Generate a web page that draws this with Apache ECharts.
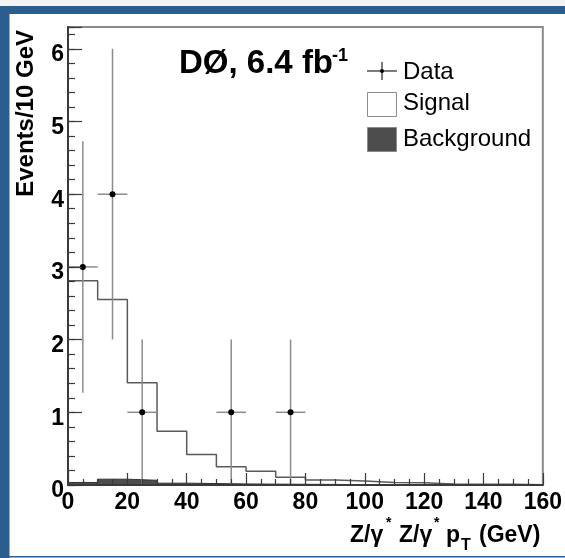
<!DOCTYPE html>
<html>
<head>
<meta charset="utf-8">
<script src="https://cdn.jsdelivr.net/npm/echarts@6/dist/echarts.min.js"></script>
<style>
  html, body { margin: 0; padding: 0; background: #ffffff; }
  #chart { width: 565px; height: 558px; }
</style>
</head>
<body>
<div id="chart"></div>
<script>
// Z/gamma* Z/gamma* pT distribution, 10 GeV bins from 0 to 160 GeV
const binLow = [0, 10, 20, 30, 40, 50, 60, 70, 80, 90, 100, 110, 120, 130, 140, 150];
const binHigh = 160;
const background = [0.035, 0.08, 0.065, 0.025, 0.02, 0.015, 0.012, 0.01, 0.008, 0.006, 0.005, 0.004, 0.003, 0.002, 0.002, 0.001];
const signal = [2.775, 2.47, 1.34, 0.715, 0.40, 0.235, 0.178, 0.095, 0.062, 0.049, 0.03, 0.026, 0.012, 0.008, 0.008, 0.004];

// Observed events with their uncertainties
const dataX = [5, 15, 25, 55, 75];
const dataY = [3, 4, 1, 1, 1];
const dataErrLow = [1.27, 2, 0, 0, 0];
const dataErrHigh = [4.73, 6, 2, 2, 2];
const dataXErr = [5, 5, 5, 5, 5];

// Axis ranges and tick labels
const xTickLabels = [0, 20, 40, 60, 80, 100, 120, 140, 160];
const yTickLabels = [0, 1, 2, 3, 4, 5, 6];
const yMax = 6.3;

const FONT = '"Liberation Sans", Arial, Helvetica, sans-serif';
const DARK = '#3a3a3a';
const BLUE = '#2c5d8f';

// Signal is stacked on top of the background
const total = signal.map((s, i) => s + background[i]);
function stepData(values) {
  const pts = binLow.map((x, i) => [x, values[i]]);
  pts.push([binHigh, values[values.length - 1]]);
  return pts;
}

function label(text, x, y, font, align) {
  return {
    type: 'text', x: x, y: y,
    style: {
      text: text, font: font, fill: '#000',
      align: align || 'left', verticalAlign: 'middle',
      textAlign: align || 'left', textVerticalAlign: 'middle'
    },
    z: 100
  };
}

// Axis title with superscripts and a subscript
const xTitleFont = 'bold 23px ' + FONT;
const supFont = 'bold 14px ' + FONT;
const subFont = 'bold 16px ' + FONT;
const xTitle = [
  label('Z/\u03b3', 350, 535.5, xTitleFont),
  label('*', 386, 523, supFont),
  label('Z/\u03b3', 399, 535.5, xTitleFont),
  label('*', 434, 523, supFont),
  label('p', 446, 535.5, xTitleFont),
  label('T', 461, 546, subFont),
  label('(GeV)', 479, 535.5, xTitleFont)
];

// Experiment and luminosity label
const measureCtx = document.createElement('canvas').getContext('2d');
const expFont = 'bold 33px ' + FONT;
measureCtx.font = expFont;
const expMain = 'D\u00d8, 6.4 fb';
const expMainW = measureCtx.measureText(expMain).width;
const expLabel = [
  label(expMain, 179, 63.5, expFont),
  label('-1', 179 + expMainW - 1, 56, 'bold 18px ' + FONT)
];

const legendFont = '24px ' + FONT;
const legendItems = [
  // Data marker: cross with a dot
  { type: 'line', shape: { x1: 367, y1: 71, x2: 397, y2: 71 }, style: { stroke: '#222', lineWidth: 1.2 }, z: 100 },
  { type: 'line', shape: { x1: 382, y1: 62, x2: 382, y2: 80 }, style: { stroke: '#222', lineWidth: 1.2 }, z: 100 },
  { type: 'circle', shape: { cx: 382, cy: 71, r: 2 }, style: { fill: '#000' }, z: 100 },
  label('Data', 403, 72, legendFont),
  { type: 'rect', shape: { x: 367.5, y: 92.5, width: 29, height: 24 }, style: { fill: '#ffffff', stroke: '#8a8a8a', lineWidth: 1 }, z: 100 },
  label('Signal', 403, 103, legendFont),
  { type: 'rect', shape: { x: 367.5, y: 127.5, width: 29, height: 24 }, style: { fill: '#4d4d4d', stroke: '#8a8a8a', lineWidth: 1 }, z: 100 },
  label('Background', 403, 139, legendFont)
];

const frame = [
  { type: 'rect', shape: { x: 0, y: 0, width: 565, height: 6 }, style: { fill: '#f3f3f3' }, z: 1 },
  { type: 'rect', shape: { x: 0, y: 6, width: 565, height: 8 }, style: { fill: BLUE }, z: 1 },
  { type: 'rect', shape: { x: 0, y: 6, width: 9.5, height: 552 }, style: { fill: BLUE }, z: 1 },
  { type: 'rect', shape: { x: 0, y: 556, width: 565, height: 1.5 }, style: { fill: BLUE }, z: 1 }
];

const yTitle = {
  type: 'text', x: 26, y: 30, rotation: Math.PI / 2,
  style: { text: 'Events/10 GeV', font: 'bold 24px ' + FONT, fill: '#000',
           align: 'right', verticalAlign: 'middle', textAlign: 'right', textVerticalAlign: 'middle' },
  z: 100
};

const chart = echarts.init(document.getElementById('chart'), null, { renderer: 'canvas' });

const option = {
  animation: false,
  backgroundColor: '#ffffff',
  grid: {
    left: 68, right: 22, top: 27, bottom: 73,
    show: true, borderColor: '#8a8a8a', borderWidth: 2, backgroundColor: 'transparent'
  },
  xAxis: {
    type: 'value', min: xTickLabels[0], max: xTickLabels[xTickLabels.length - 1], interval: 20,
    z: 10,
    axisLine: { show: true, onZero: false, lineStyle: { color: DARK, width: 2 } },
    axisTick: { show: true, inside: true, length: 12, lineStyle: { color: DARK, width: 1.2 } },
    minorTick: { show: true, splitNumber: 4, length: 6, lineStyle: { color: DARK, width: 1.2 } },
    splitLine: { show: false },
    axisLabel: {
      margin: 6, fontSize: 23, fontWeight: 'bold', color: '#000', fontFamily: FONT,
      formatter: v => (xTickLabels.includes(v) ? String(v) : '')
    }
  },
  yAxis: [
    {
      // major ticks with labels, set slightly below their ticks
      type: 'value', position: 'left', min: 0, max: yMax, interval: 1,
      z: 10,
      axisLine: { show: true, onZero: false, lineStyle: { color: DARK, width: 2 } },
      axisTick: { show: true, inside: true, length: 14, lineStyle: { color: DARK, width: 1.2 } },
      splitLine: { show: false },
      axisLabel: {
        margin: 4, color: '#000',
        formatter: v => (yTickLabels.includes(v) ? '{n|' + v + '}' : ''),
        rich: {
          n: { fontSize: 23, fontWeight: 'bold', color: '#000', fontFamily: FONT,
               padding: [12, 0, 0, 0] }
        }
      }
    },
    {
      // minor ticks every 0.2
      type: 'value', position: 'left', min: 0, max: yMax, interval: 0.2,
      z: 10,
      axisLine: { show: false },
      axisTick: { show: true, inside: true, length: 7, lineStyle: { color: DARK, width: 1.2 } },
      splitLine: { show: false },
      axisLabel: { show: false }
    }
  ],
  series: [
    {
      name: 'Background', type: 'line', step: 'end', yAxisIndex: 0,
      data: stepData(background), showSymbol: false, symbol: 'none',
      lineStyle: { color: '#333333', width: 1 },
      areaStyle: { color: '#4d4d4d', opacity: 1 },
      z: 2
    },
    {
      name: 'Signal', type: 'line', step: 'end', yAxisIndex: 0,
      data: stepData(total), showSymbol: false, symbol: 'none',
      lineStyle: { color: '#5a5a5a', width: 1.5 },
      z: 3
    },
    {
      name: 'Data', type: 'custom', yAxisIndex: 0,
      data: dataX.map((x, i) => [x, dataY[i], dataErrLow[i], dataErrHigh[i], dataXErr[i]]),
      encode: { x: 0, y: 1 },
      renderItem: (params, api) => {
        const x = api.value(0), y = api.value(1);
        const c = api.coord([x, y]);
        const lo = api.coord([x, api.value(2)]);
        const hi = api.coord([x, api.value(3)]);
        const l = api.coord([x - api.value(4), y]);
        const r = api.coord([x + api.value(4), y]);
        const barStyle = { stroke: '#8c8c8c', lineWidth: 1.5 };
        return {
          type: 'group',
          children: [
            { type: 'line', shape: { x1: lo[0], y1: lo[1], x2: hi[0], y2: hi[1] }, style: barStyle },
            { type: 'line', shape: { x1: l[0], y1: l[1], x2: r[0], y2: r[1] }, style: barStyle },
            { type: 'circle', shape: { cx: c[0], cy: c[1], r: 3 }, style: { fill: '#000' } }
          ]
        };
      },
      z: 5
    }
  ],
  graphic: { elements: [].concat(frame, [yTitle], xTitle, expLabel, legendItems) }
};

chart.setOption(option);
</script>
</body>
</html>
